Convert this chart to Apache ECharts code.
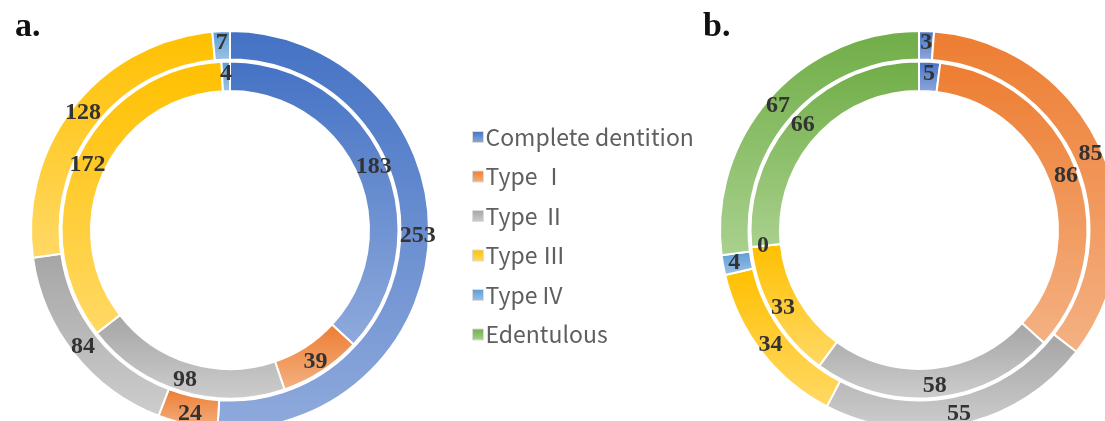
<!DOCTYPE html>
<html>
<head>
<meta charset="utf-8">
<script src="https://cdn.jsdelivr.net/npm/echarts@6/dist/echarts.min.js"></script>
<style>
  html, body { margin: 0; padding: 0; background: #fff; }
  #chart { width: 1105px; height: 421px; }
</style>
</head>
<body>
<div id="chart"></div>
<script>
// categories
const categories = ['Complete dentition', 'Type Ⅰ', 'Type Ⅱ', 'Type Ⅲ', 'Type IV', 'Edentulous']

// a. inner / outer ring
const aInner = [183, 39, 98, 172, 4]
const aOuter = [253, 24, 84, 128, 7]

// b. inner / outer ring
const bInner = [5, 86, 58, 33, 0, 66]
const bOuter = [3, 85, 55, 34, 4, 67]

// excel-ish gradient colours (top -> bottom)
const DARK = ['#4472C4', '#ED7D31', '#A5A5A5', '#FFC000', '#5B9BD5', '#70AD47']
const LIGHT = ['#8FAADC', '#F4B183', '#CDCDCD', '#FFD966', '#9DC3E6', '#A9D18E']

const grad = i => new echarts.graphic.LinearGradient(0, 0, 0, 1, [
  { offset: 0, color: DARK[i] },
  { offset: 1, color: LIGHT[i] }
])

const toData = values => values.map((v, i) => ({
  name: categories[i],
  value: v,
  itemStyle: { color: grad(i) }
}))

const labelStyle = {
  show: true,
  position: 'inside',
  formatter: '{c}',
  fontFamily: 'Liberation Serif',
  fontWeight: 'bold',
  fontSize: 24,
  color: '#333'
}

const ring = (center, radius, values) => ({
  type: 'pie',
  center,
  radius,
  startAngle: 90,
  clockwise: true,
  avoidLabelOverlap: false,
  silent: true,
  label: labelStyle,
  labelLine: { show: false },
  itemStyle: { borderColor: '#fff', borderWidth: 2 },
  data: toData(values)
})

const INNER = [139, 168.5]
const OUTER = [170.5, 199]

let myChart = echarts.init(document.getElementById('chart'))

myChart.setOption({
  animation: false,
  title: [
    {
      text: 'a.',
      left: 10,
      top: 5,
      textStyle: { fontFamily: 'Liberation Serif', fontWeight: 'bold', fontSize: 34, color: '#111' }
    },
    {
      text: 'b.',
      left: 698,
      top: 5,
      textStyle: { fontFamily: 'Liberation Serif', fontWeight: 'bold', fontSize: 34, color: '#111' }
    }
  ],
  legend: {
    orient: 'vertical',
    left: 467,
    top: 120,
    icon: 'rect',
    itemWidth: 11,
    itemHeight: 11,
    itemGap: 15.5,
    itemStyle: { borderColor: '#dcdcdc', borderWidth: 1 },
    textStyle: {
      fontFamily: 'Noto Sans CJK SC',
      fontSize: 23,
      lineHeight: 24,
      color: '#5f5f5f',
      padding: [0, 0, 0, -3]
    },
    data: categories
  },
  series: [
    ring([230, 230], INNER, aInner),
    ring([230, 230], OUTER, aOuter),
    ring([919, 230], INNER, bInner),
    ring([919, 230], OUTER, bOuter)
  ]
})
</script>
</body>
</html>
